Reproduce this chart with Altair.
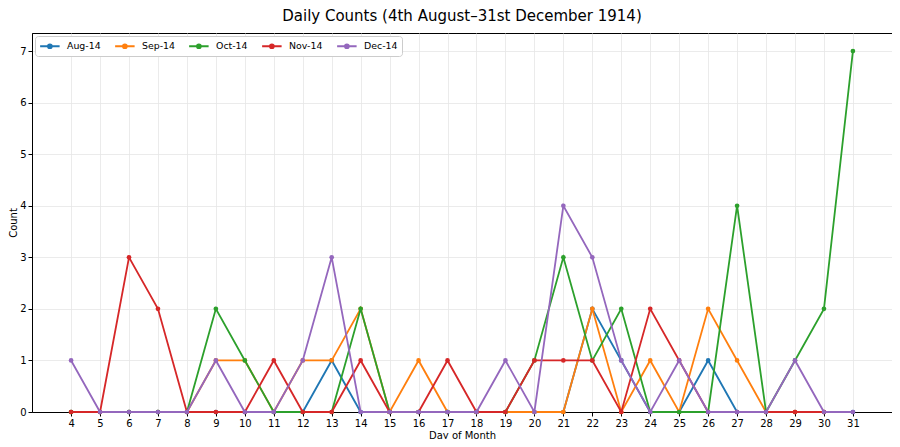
import altair as alt
import pandas as pd

months = ["Aug-14", "Sep-14", "Oct-14", "Nov-14", "Dec-14"]
colors = ["#1f77b4", "#ff7f0e", "#2ca02c", "#d62728", "#9467bd"]
x_ticks = list(range(4, 32))
y_ticks = list(range(0, 8))

days_aug = list(range(4, 32))
days_sep = list(range(4, 31))
days_oct = list(range(4, 32))
days_nov = list(range(4, 31))
days_dec = list(range(4, 32))

aug = [0, 0, 0, 0, 0, 0, 0, 0, 0, 1, 0, 0, 0, 0, 0, 0, 0, 0, 2, 1, 0, 0, 1, 0, 0, 0, 0, 0]
sep = [0, 0, 0, 0, 0, 1, 1, 0, 1, 1, 2, 0, 1, 0, 0, 0, 0, 0, 2, 0, 1, 0, 2, 1, 0, 0, 0]
oct_ = [0, 0, 0, 0, 0, 2, 1, 0, 0, 0, 2, 0, 0, 0, 0, 0, 1, 3, 1, 2, 0, 0, 0, 4, 0, 1, 2, 7]
nov = [0, 0, 3, 2, 0, 0, 0, 1, 0, 0, 1, 0, 0, 1, 0, 0, 1, 1, 1, 0, 2, 1, 0, 0, 0, 0, 0]
dec = [1, 0, 0, 0, 0, 1, 0, 0, 1, 3, 0, 0, 0, 0, 0, 1, 0, 4, 3, 1, 0, 1, 0, 0, 0, 1, 0, 0]

series = [(months[0], days_aug, aug), (months[1], days_sep, sep), (months[2], days_oct, oct_),
          (months[3], days_nov, nov), (months[4], days_dec, dec)]

FONT = "DejaVu Sans"

xscale = alt.Scale(domain=[2.65, 32.35], nice=False, zero=False)
yscale = alt.Scale(domain=[0, 7.35], nice=False)
cscale = alt.Scale(domain=months, range=colors)

legend_symbol = ("M-1,0L3,0M0.6,0A0.4,0.4,0,1,0,1.4,0A0.4,0.4,0,1,0,0.6,0Z"
                 "M0.84,0A0.16,0.16,0,1,0,1.16,0A0.16,0.16,0,1,0,0.84,0Z")

layers = []
for i, (m, d, v) in enumerate(series):
    df = pd.DataFrame({"Day": d, "Count": v, "Month": m})
    enc = dict(
        x=alt.X("Day:Q", scale=xscale,
                axis=alt.Axis(values=x_ticks, title="Day of Month", format="d")),
        y=alt.Y("Count:Q", scale=yscale,
                axis=alt.Axis(values=y_ticks, title="Count", format="d")),
        color=alt.Color("Month:N", scale=cscale,
                        legend=alt.Legend(title=None, orient="top-left", direction="horizontal",
                                          columns=5, symbolType=legend_symbol, symbolSize=95,
                                          symbolStrokeWidth=1.8, labelFontSize=9.4,
                                          fillColor="white", strokeColor="#cccccc",
                                          padding=4, cornerRadius=3, offset=3,
                                          columnPadding=10, labelOffset=16)),
        order=alt.Order("Day:Q"),
    )
    line = alt.Chart(df).mark_line(strokeWidth=1.8).encode(**enc)
    pts = alt.Chart(df).mark_circle(size=22, opacity=1).encode(
        x=enc["x"], y=enc["y"], color=enc["color"])
    layers += [line, pts]

chart = alt.layer(*layers).properties(
    width=860, height=379,
    title=alt.Title("Daily Counts (4th August\u201331st December 1914)", fontSize=15,
                    fontWeight="normal", font=FONT, anchor="middle", offset=9, color="black"),
    autosize=alt.AutoSizeParams(type="none"),
    padding={"left": 24, "top": 25, "right": 0, "bottom": 27},
).configure(font=FONT).configure_view(
    stroke="black", strokeWidth=1
).configure_axis(
    grid=True, gridColor="#e6e6e6", gridWidth=0.8,
    domainColor="black", tickColor="black", tickSize=4,
    labelColor="black", labelFontSize=10, labelFont=FONT,
    titleColor="black", titleFontSize=10, titleFont=FONT, titleFontWeight="normal",
    labelPadding=2,
).configure_axisY(titlePadding=1).configure_axisX(titlePadding=2, labelFlush=False)

chart.save("out.html", embed_options={"renderer": "svg", "actions": False})
